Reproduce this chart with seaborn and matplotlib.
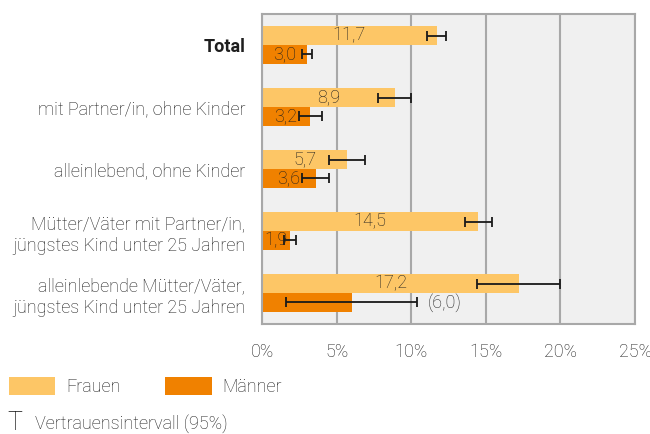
import matplotlib
matplotlib.use("Agg")
import matplotlib.pyplot as plt
import seaborn as sns
import pandas as pd
from matplotlib.patches import Patch

kategorien = [
    "Total",
    "mit Partner/in, ohne Kinder",
    "alleinlebend, ohne Kinder",
    "Mütter/Väter mit Partner/in,\njüngstes Kind unter 25 Jahren",
    "alleinlebende Mütter/Väter,\njüngstes Kind unter 25 Jahren",
]
frauen = [11.7, 8.9, 5.7, 14.5, 17.2]
frauen_ki_unten = [11.05, 7.8, 4.5, 13.6, 14.4]
frauen_ki_oben = [12.35, 10.0, 6.9, 15.4, 20.0]
maenner = [3.0, 3.2, 3.6, 1.9, 6.0]
maenner_ki_unten = [2.7, 2.45, 2.7, 1.5, 1.6]
maenner_ki_oben = [3.35, 4.0, 4.5, 2.3, 10.4]
maenner_unsicher = [False, False, False, False, True]
x_ticks = [0, 5, 10, 15, 20, 25]

farbe_frauen = "#FDC666"
farbe_maenner = "#F08100"
grau = "#A8A8A8"
textfarbe = "#1e1e1e"
fs = 13

sns.set_theme(style="white")
plt.rcParams["font.family"] = ["Roboto", "DejaVu Sans"]
plt.rcParams["font.weight"] = "light"

df = pd.DataFrame({
    "Kategorie": kategorien * 2,
    "Wert": frauen + maenner,
    "Geschlecht": ["Frauen"] * len(kategorien) + ["Männer"] * len(kategorien),
})

fig = plt.figure(figsize=(6.5, 4.34), dpi=100)
ax = fig.add_axes([262 / 650, 1 - 324 / 434, (635 - 262) / 650, (324 - 14) / 434])
ax.set_facecolor("#F0F0F0")

sns.barplot(
    data=df, y="Kategorie", x="Wert", hue="Geschlecht", orient="h",
    palette={"Frauen": farbe_frauen, "Männer": farbe_maenner},
    width=0.61, errorbar=None, saturation=1, legend=False, ax=ax,
    order=kategorien, hue_order=["Frauen", "Männer"],
)

for patch in ax.patches:
    patch.set_edgecolor("none")

serien = [
    (frauen, frauen_ki_unten, frauen_ki_oben, [False] * 5),
    (maenner, maenner_ki_unten, maenner_ki_oben, maenner_unsicher),
]
for container, (werte, unten, oben, unsicher) in zip(ax.containers, serien):
    ys = [p.get_y() + p.get_height() / 2 for p in container.patches]
    ax.errorbar(
        werte, ys,
        xerr=[[w - u for w, u in zip(werte, unten)], [o - w for w, o in zip(werte, oben)]],
        fmt="none", ecolor="#1a1a1a", elinewidth=1.3, capsize=3.5, capthick=1.3, zorder=4,
    )
    for w, o, y, u in zip(werte, oben, ys, unsicher):
        txt = f"{w:.1f}".replace(".", ",")
        if u:
            ax.text(o + 0.7, y, f"({txt})", ha="left", va="center",
                    fontsize=fs, color=textfarbe, fontweight="light", zorder=5)
        else:
            ax.text(w / 2, y, txt, ha="center", va="center",
                    fontsize=fs, color=textfarbe, fontweight="light", zorder=5)

ax.set_xlim(0, 25)
ax.set_ylim(len(kategorien) - 0.5, -0.5)
ax.set_xticks(x_ticks)
ax.set_xticklabels([f"{t}%" for t in x_ticks])
ax.set_xlabel("")
ax.set_ylabel("")
ax.grid(axis="x", color=grau, linewidth=1.5, zorder=0)
ax.set_axisbelow(True)
for s in ax.spines.values():
    s.set_color(grau)
    s.set_linewidth(1.5)
ax.tick_params(axis="x", length=3, width=1.5, color=grau, labelsize=fs,
               labelcolor=textfarbe, pad=11)
ax.tick_params(axis="y", length=0, labelsize=fs, labelcolor=textfarbe, pad=12)
for lbl in ax.get_yticklabels():
    lbl.set_linespacing(1.3)
    if lbl.get_text() == "Total":
        lbl.set_fontweight("bold")
for lbl in ax.get_xticklabels():
    lbl.set_fontweight("light")

handles = [Patch(facecolor=farbe_frauen, edgecolor="none"),
           Patch(facecolor=farbe_maenner, edgecolor="none")]
leg = fig.legend(
    handles, ["Frauen", "Männer"], loc="center left",
    bbox_to_anchor=(9 / 650, 1 - 386.5 / 434), ncol=2, frameon=False,
    fontsize=fs, handlelength=46 / 18, handleheight=21 / 18, handletextpad=0.6,
    columnspacing=2.5, borderpad=0, borderaxespad=0,
)
for t in leg.get_texts():
    t.set_color(textfarbe)

fig.text(7 / 650, 1 - 423 / 434, "T", fontsize=18, fontweight="light",
         color="#111111", va="center", ha="left")
fig.text(35 / 650, 1 - 424 / 434, "Vertrauensintervall (95%)", fontsize=fs,
         fontweight="light", color=textfarbe, va="center", ha="left")

fig.savefig("out.png", dpi=100)
